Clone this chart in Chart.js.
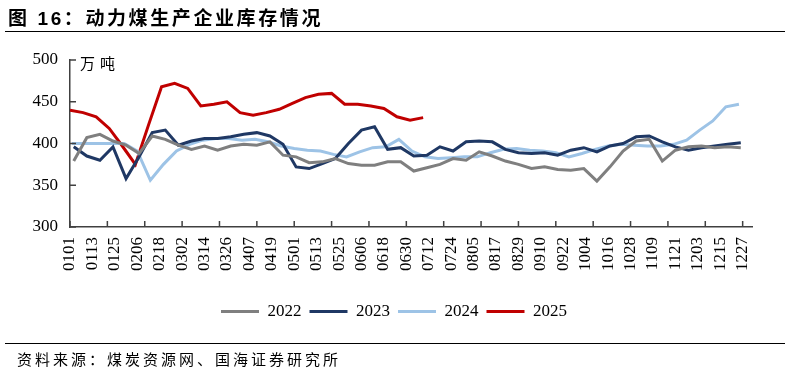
<!DOCTYPE html>
<html>
<head>
<meta charset="utf-8">
<script src="https://cdn.jsdelivr.net/npm/chart.js@4.4.1/dist/chart.umd.min.js"></script>
<style>
  html, body { margin: 0; padding: 0; background: #fff; }
  #wrap { position: relative; width: 791px; height: 374px; overflow: hidden; }
  #title { position: absolute; left: 8px; top: 3px; font: bold 19px "Liberation Sans", "Noto Sans CJK SC"; letter-spacing: 2.6px; color: #000; }
  .rule { position: absolute; left: 5px; width: 780px; height: 0; border-top: 1.5px solid #000; }
  #unit { position: absolute; left: 80px; top: 52px; font: 15px "Noto Sans CJK SC"; letter-spacing: 5px; color: #000; }
  #src { position: absolute; left: 17px; top: 348px; font: 15px "Noto Sans CJK SC"; letter-spacing: 3px; color: #000; }
  canvas { position: absolute; left: 0; top: 0; }
</style>
</head>
<body>
<div id="wrap">
  <canvas id="stockChart" width="791" height="374"></canvas>
  <div id="title">图 16：动力煤生产企业库存情况</div>
  <div class="rule" style="top:31px"></div>
  <div id="unit">万吨</div>
  <div class="rule" style="top:343px"></div>
  <div id="src">资料来源：煤炭资源网、国海证券研究所</div>
</div>
<script>
// x axis: day of year (0 = 0101), labels every 12 days
const tickLabels = ['0101', '0113', '0125', '0206', '0218', '0302', '0314', '0326', '0407', '0419',
  '0501', '0513', '0525', '0606', '0618', '0630', '0712', '0724', '0805', '0817', '0829', '0910',
  '0922', '1004', '1016', '1028', '1109', '1121', '1203', '1215', '1227'];

// weekly sample days
const daysA = [2, 9, 16, 23, 30, 37, 44, 51, 58, 65, 72, 79, 86, 93, 100, 107, 114, 121, 128, 135,
  142, 149, 156, 163, 170, 177, 184, 191, 198, 205, 212, 219, 226, 233, 240, 247, 254, 261, 268, 275,
  282, 289, 296, 303, 310, 317, 324, 331, 338, 345, 352, 359];
const daysB = [1, 8, 15, 22, 29, 36, 43, 50, 57, 64, 71, 78, 85, 92, 99, 106, 113, 120, 127, 134,
  141, 148, 155, 162, 169, 176, 183, 190, 197, 204, 211, 218, 225, 232, 239, 246, 253, 260, 267, 274,
  281, 288, 295, 302, 309, 316, 323, 330, 337, 344, 351, 358];
const daysC = [0, 7, 14, 21, 28, 35, 42, 49, 56, 63, 70, 77, 84, 91, 98, 105, 112, 119, 126, 133,
  140, 147, 154, 161, 168, 175, 182, 189];

// 万吨
const stock2022 = [379, 407, 411, 403, 398, 388, 409, 405, 398, 393, 397, 392, 397, 399, 398, 402, 386, 384, 377, 378,
  382, 376, 374, 374, 378, 378, 367, 371, 375, 382, 380, 390, 385, 379, 375, 370, 372, 369, 368, 370,
  355, 372, 391, 403, 405, 379, 392, 396, 397, 395, 396, 395];
const stock2023 = [396, 385, 380, 396, 358, 384, 413, 416, 398, 403, 406, 406, 408, 411, 413, 409, 399, 372, 370, 376,
  382, 400, 416, 420, 393, 395, 385, 386, 396, 391, 402, 403, 402, 393, 389, 388, 389, 386, 392, 395,
  390, 397, 400, 408, 409, 402, 396, 392, 395, 397, 399, 401];
const stock2024 = [400, 400, 400, 400, 400, 391, 356, 375, 391, 399, 404, 406, 406, 404, 405, 402, 397, 394, 392, 391,
  387, 384, 390, 395, 396, 405, 391, 384, 382, 383, 384, 384, 389, 393, 394, 392, 391, 389, 384, 388,
  393, 397, 399, 398, 397, 397, 399, 404, 416, 427, 444, 447];
const stock2025 = [440, 437, 432, 418, 397, 375, 422, 468, 472, 466, 445, 447, 450, 437, 434, 437, 441, 448, 455, 459,
  460, 447, 447, 445, 442, 432, 428, 431];

const toPoints = (days, vals) => days.map((d, i) => ({ x: d, y: vals[i] }));

const serif = 'Liberation Serif';
const axisColor = '#404040';

// short inward tick marks on both axes
const innerTicks = {
  id: 'innerTicks',
  afterDatasetsDraw(chart) {
    const { ctx, chartArea: a, scales: { x, y } } = chart;
    ctx.save();
    ctx.strokeStyle = axisColor;
    ctx.lineWidth = 1.5;
    ctx.beginPath();
    y.ticks.forEach(t => {
      const py = y.getPixelForValue(t.value);
      ctx.moveTo(a.left, py);
      ctx.lineTo(a.left + 6, py);
    });
    x.ticks.forEach(t => {
      if (t.value % 20 === 0) {
        const px = x.getPixelForValue(t.value);
        ctx.moveTo(px, a.bottom);
        ctx.lineTo(px, a.bottom - 6);
      }
    });
    ctx.stroke();
    ctx.restore();
  }
};

// legend in the reference is centred a little right of the canvas middle
const shiftLegend = {
  id: 'shiftLegend',
  afterLayout(chart) {
    chart.legend.left += 36;
    chart.legend.right += 0;
  }
};

const ctx = document.getElementById('stockChart').getContext('2d');
const stockChart = new Chart(ctx, {
  type: 'line',
  data: {
    datasets: [
      { label: '2022', data: toPoints(daysA, stock2022), borderColor: '#7f7f7f' },
      { label: '2023', data: toPoints(daysA, stock2023), borderColor: '#1f3864' },
      { label: '2024', data: toPoints(daysB, stock2024), borderColor: '#9dc3e6' },
      { label: '2025', data: toPoints(daysC, stock2025), borderColor: '#c00000' },
    ],
  },
  options: {
    responsive: false,
    animation: false,
    elements: {
      line: { borderWidth: 3, tension: 0 },
      point: { radius: 0 },
    },
    layout: { padding: { top: 60, left: 0, right: 39, bottom: 44 } },
    plugins: {
      tooltip: { enabled: false },
      legend: {
        position: 'bottom',
        labels: {
          boxWidth: 38,
          boxHeight: 3,
          padding: 8,
          color: '#000',
          font: { family: serif, size: 17 },
          generateLabels: chart => chart.data.datasets.map((ds, i) => ({
            text: ds.label,
            fillStyle: ds.borderColor,
            strokeStyle: ds.borderColor,
            lineWidth: 0,
            hidden: false,
            datasetIndex: i,
          })),
        },
      },
    },
    scales: {
      x: {
        type: 'linear',
        min: 0,
        max: 365,
        afterBuildTicks: axis => {
          const vals = new Set();
          for (let d = 0; d <= 360; d += 12) vals.add(d);
          for (let d = 0; d <= 360; d += 20) vals.add(d);
          axis.ticks = [...vals].sort((a, b) => a - b).map(v => ({ value: v }));
        },
        afterFit: scale => { scale.height = 68; },
        grid: { drawOnChartArea: false, drawTicks: false },
        border: { color: axisColor, width: 1.5 },
        ticks: {
          autoSkip: false,
          minRotation: 90,
          maxRotation: 90,
          padding: 10,
          color: '#000',
          font: { family: serif, size: 17 },
          callback: v => (v % 12 === 0 ? tickLabels[v / 12] : ''),
        },
      },
      y: {
        min: 300,
        max: 500,
        afterFit: scale => { scale.width = 70; },
        grid: { drawOnChartArea: false, drawTicks: false },
        border: { color: axisColor, width: 1.5 },
        ticks: {
          stepSize: 50,
          padding: 12,
          color: '#000',
          font: { family: serif, size: 17 },
        },
      },
    },
  },
  plugins: [innerTicks, shiftLegend],
});
</script>
</body>
</html>
